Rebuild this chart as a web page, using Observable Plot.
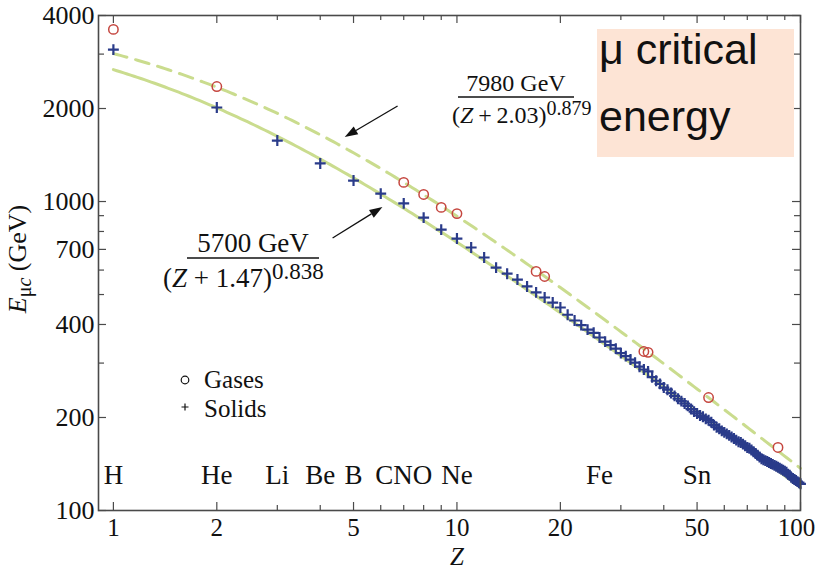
<!DOCTYPE html>
<html>
<head>
<meta charset="utf-8">
<script src="https://cdn.jsdelivr.net/npm/d3@7"></script>
<script src="https://cdn.jsdelivr.net/npm/@observablehq/plot@0.6"></script>
<style>
  body { margin: 0; background: #fff; }
  #chart { width: 817px; height: 570px; }
</style>
</head>
<body>
<div id="chart"></div>
<script>
// Muon critical energy vs atomic number Z (gases and solids/liquids)
const gasZ = [1, 2, 7, 8, 9, 10, 17, 18, 35, 36, 54, 86];
const gasE = [3607, 2356, 1153, 1054, 957, 914, 594, 572, 327, 325, 232, 160];

// solids / liquids, one value per element, Z = 1 ... 100
const solidE = [
  3102, 2015, 1575, 1328, 1169, 1061, 986, 887, 811, 759,
  710, 659, 611, 584, 559, 531, 508, 489, 471, 454,
  430, 412, 398, 385, 376, 363, 352, 343, 334, 323,
  316, 308, 301, 292, 286, 282, 270, 263, 257, 250,
  246, 240, 235, 230, 226, 222, 218, 213, 209, 206,
  203, 201, 198, 196, 193, 189, 186, 184, 181, 179,
  177, 175, 173, 171, 169, 167, 166, 164, 162, 160,
  159, 157, 155, 153, 151, 149, 147, 146, 145, 144,
  143, 142, 141, 140, 139, 138, 137, 136, 135, 134,
  133, 131, 130, 128, 127, 126, 125, 124, 123, 122
];

// fitted curves  E = a / (Z + b)^c   [gases (dashed), solids (solid)]
const fitName = ["gases", "solids"];
const fitA = [7980, 5700];
const fitB = [2.03, 1.47];
const fitC = [0.879, 0.838];

// element symbols written along the bottom of the frame
const elementSym = ["H", "He", "Li", "Be", "B", "CNO", "Ne", "Fe", "Sn"];
const elementZ   = [1, 2, 3, 4, 5, 7, 10, 26, 50];

// axis ticks
const xMajor = [1, 2, 5, 10, 20, 50, 100];
const xMinor = [3, 4, 6, 7, 8, 9, 30, 40, 60, 70, 80, 90];
const yMajor = [100, 200, 400, 700, 1000, 2000, 4000];
const yMinor = [300, 500, 600, 800, 900, 3000];

const gases = gasZ.map((z, i) => ({Z: z, E: gasE[i]}));
const solids = solidE.map((e, i) => ({Z: i + 1, E: e}));
const elements = elementSym.map((s, i) => ({sym: s, Z: elementZ[i]}));
const fitRows = fitName.flatMap((name, k) =>
  d3.range(0, 2.0001, 0.01).map(t => {
    const z = Math.pow(10, t);
    return {series: name, Z: z, E: fitA[k] / Math.pow(z + fitB[k], fitC[k])};
  })
);

const frameColor = "#4a4a4a";
const curveColor = "#cadc8e";
const serif = "'Liberation Serif', 'Times New Roman', serif";

const plot = Plot.plot({
  width: 817,
  height: 570,
  marginLeft: 98,
  marginRight: 17,
  marginTop: 15,
  marginBottom: 60,
  style: {fontFamily: serif, fontSize: "26px", background: "#fff", color: "#111"},
  x: {type: "log", domain: [0.905, 100]},
  y: {type: "log", domain: [100, 4000]},
  marks: [
    Plot.line(fitRows.filter(d => d.series === "gases"), {x: "Z", y: "E", stroke: curveColor, strokeWidth: 3, strokeDasharray: "14,9"}),
    Plot.line(fitRows.filter(d => d.series === "solids"), {x: "Z", y: "E", stroke: curveColor, strokeWidth: 3}),
    Plot.dot(solids, {x: "Z", y: "E", symbol: "plus", r: 3.6, stroke: "#2a3b8a", strokeWidth: 2.2}),
    Plot.dot(gases, {x: "Z", y: "E", r: 4.7, stroke: "#c5463f", strokeWidth: 1.5, fill: "none"}),
    Plot.text(elements, {x: "Z", text: "sym", frameAnchor: "bottom", dy: -27, fontSize: 27, fill: "#111"}),
    // inward ticks on all four sides
    Plot.tickX(xMajor, {insetTop: 487, stroke: frameColor, strokeWidth: 1.2}),
    Plot.tickX(xMinor, {insetTop: 490, stroke: frameColor, strokeWidth: 1.2}),
    Plot.tickX(xMajor, {insetBottom: 487, stroke: frameColor, strokeWidth: 1.2}),
    Plot.tickX(xMinor, {insetBottom: 490, stroke: frameColor, strokeWidth: 1.2}),
    Plot.tickY(yMajor, {insetRight: 694, stroke: frameColor, strokeWidth: 1.2}),
    Plot.tickY(yMinor, {insetRight: 696, stroke: frameColor, strokeWidth: 1.2}),
    Plot.tickY(yMajor, {insetLeft: 694, stroke: frameColor, strokeWidth: 1.2}),
    Plot.tickY(yMinor, {insetLeft: 696, stroke: frameColor, strokeWidth: 1.2}),
    Plot.axisX({ticks: xMajor.slice(0, -1), tickSize: 0, tickPadding: 8, fontSize: 25, tickFormat: d => String(d), label: null}),
    Plot.axisX({ticks: xMajor.slice(-1), tickSize: 0, tickPadding: 8, fontSize: 25, dx: -4, tickFormat: d => String(d), label: null}),
    Plot.axisY({ticks: yMajor, tickSize: 0, tickPadding: 4, fontSize: 26, tickFormat: d => String(d), label: null}),
    Plot.frame({stroke: frameColor, strokeWidth: 1.6})
  ]
});

document.getElementById("chart").appendChild(plot);

const sx = plot.scale("x"), sy = plot.scale("y");
const svg = d3.select(plot);

// axis titles
svg.append("text")
  .attr("text-anchor", "middle")
  .attr("x", 457).attr("y", 565)
  .attr("font-family", serif).attr("font-size", 25).attr("font-style", "italic").attr("fill", "#111")
  .text("Z");

const yTitle = svg.append("text")
  .attr("text-anchor", "middle")
  .attr("transform", "translate(26,259) rotate(-90)")
  .attr("font-family", serif).attr("font-size", 26).attr("fill", "#111");
yTitle.append("tspan").attr("font-style", "italic").text("E");
yTitle.append("tspan").attr("font-size", 20).attr("dy", 5).text("μ");
yTitle.append("tspan").attr("font-size", 20).attr("font-style", "italic").text("c");
yTitle.append("tspan").attr("dy", -5).text(" (GeV)");

// fit formulas as fractions, with arrows pointing to their curves
function fraction(k, cx, lineY, halfW, size, gap, denX) {
  const g = svg.append("g").attr("font-family", serif).attr("fill", "#111");
  g.append("text").attr("x", cx).attr("y", lineY - 6).attr("text-anchor", "middle")
    .attr("font-size", size).text(`${fitA[k]} GeV`);
  g.append("line").attr("x1", cx - halfW).attr("x2", cx + halfW).attr("y1", lineY).attr("y2", lineY)
    .attr("stroke", "#111").attr("stroke-width", 1.3);
  const den = g.append("text").attr("x", denX).attr("y", lineY + size + 2).attr("text-anchor", "start").attr("font-size", size);
  den.append("tspan").text("(");
  den.append("tspan").attr("font-style", "italic").text("Z");
  den.append("tspan").text(`${gap}+${gap}${fitB[k].toFixed(2)})`);
  den.append("tspan").attr("dy", -8).attr("font-size", Math.round(size * 0.85)).text(String(fitC[k]));
}
fraction(0, 516, 97, 58, 24, "\u2009", 452);
fraction(1, 253, 258, 66, 27, " ", 163);

const arrowFromZ = [6.74, 4.36], arrowFromE = [2030, 759];
const arrowToZ   = [4.73, 6.09], arrowToE   = [1611, 956];
arrowFromZ.forEach((_, i) => {
  const x1 = sx.apply(arrowFromZ[i]), y1 = sy.apply(arrowFromE[i]);
  const x2 = sx.apply(arrowToZ[i]), y2 = sy.apply(arrowToE[i]);
  const a = Math.atan2(y2 - y1, x2 - x1), L = 13, W = 4.5;
  const bx = x2 - L * Math.cos(a), by = y2 - L * Math.sin(a);
  svg.append("line").attr("x1", x1).attr("y1", y1).attr("x2", bx).attr("y2", by)
    .attr("stroke", "#111").attr("stroke-width", 1.3);
  svg.append("path")
    .attr("d", `M${x2},${y2}L${bx - W * Math.sin(a)},${by + W * Math.cos(a)}L${bx + W * Math.sin(a)},${by - W * Math.cos(a)}Z`)
    .attr("fill", "#111");
});

// legend
const leg = svg.append("g").attr("font-family", serif).attr("font-size", 25).attr("fill", "#111").attr("text-anchor", "start");
leg.append("circle").attr("cx", 185).attr("cy", 380).attr("r", 3.8).attr("fill", "none").attr("stroke", "#111").attr("stroke-width", 1.2);
leg.append("path").attr("d", "M181.5,407H188.5M185,403.5V410.5").attr("stroke", "#111").attr("stroke-width", 1.2);
leg.append("text").attr("x", 204).attr("y", 388).text("Gases");
leg.append("text").attr("x", 204).attr("y", 417).text("Solids");

// callout box
svg.append("rect").attr("x", 597).attr("y", 29).attr("width", 197).attr("height", 128).attr("fill", "#fde4d5");
const box = svg.append("g").attr("font-family", "'Liberation Sans', Arial, sans-serif").attr("font-size", 43)
  .attr("fill", "#111").attr("text-anchor", "start");
box.append("text").attr("x", 599).attr("y", 64).text("μ critical");
box.append("text").attr("x", 599).attr("y", 131).text("energy");
</script>
</body>
</html>
